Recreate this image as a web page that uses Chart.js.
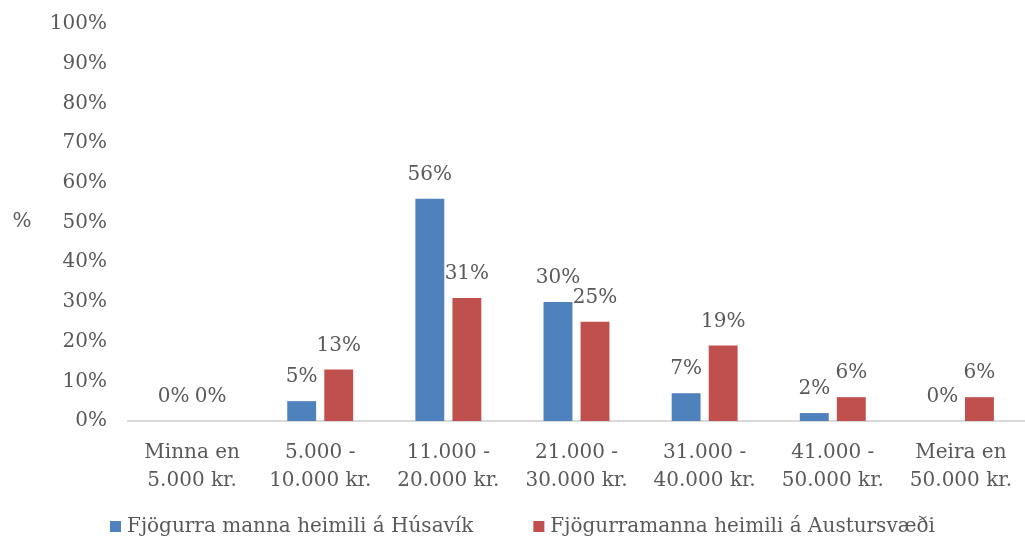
<!DOCTYPE html>
<html>
<head>
<meta charset="utf-8">
<script src="https://cdn.jsdelivr.net/npm/chart.js@4"></script>
<style>
  html, body { margin: 0; padding: 0; background: #fff; }
  #wrap { width: 1025px; height: 542px; }
</style>
</head>
<body>
<div id="wrap"><canvas id="chart"></canvas></div>
<script>
const categories = [
  ["Minna en", "5.000 kr."],
  ["5.000 -", "10.000 kr."],
  ["11.000 -", "20.000 kr."],
  ["21.000 -", "30.000 kr."],
  ["31.000 -", "40.000 kr."],
  ["41.000 -", "50.000 kr."],
  ["Meira en", "50.000 kr."]
];
const husavik = [0, 5, 56, 30, 7, 2, 0];
const austur = [0, 13, 31, 25, 19, 6, 6];
const seriesNames = ["Fjögurra manna heimili á Húsavík", "Fjögurramanna heimili á Austursvæði"];

const FONT = "'DejaVu Serif', serif";
const TXT = "#595959";

// gildi ofan á súlum
const barLabels = {
  id: "barLabels",
  afterDatasetsDraw(chart) {
    const ctx = chart.ctx;
    ctx.save();
    ctx.font = "20px " + FONT;
    ctx.fillStyle = TXT;
    ctx.textAlign = "center";
    ctx.textBaseline = "middle";
    chart.data.datasets.forEach((ds, i) => {
      chart.getDatasetMeta(i).data.forEach((bar, j) => {
        ctx.fillText(ds.data[j] + "%", bar.x, bar.y - 24);
      });
    });
    ctx.restore();
  }
};

// "%" við y-ás (ekki snúið) og skýringar neðst
const extras = {
  id: "extras",
  afterDraw(chart) {
    const ctx = chart.ctx;
    ctx.save();
    ctx.font = "20px " + FONT;
    ctx.fillStyle = TXT;
    ctx.textBaseline = "middle";
    ctx.textAlign = "center";
    ctx.fillText("%", 22, 222);

    ctx.textAlign = "left";
    let x = 110;
    const y = 527;
    chart.data.datasets.forEach(ds => {
      ctx.fillStyle = ds.backgroundColor;
      ctx.fillRect(x, y - 6, 11, 11);
      ctx.fillStyle = TXT;
      ctx.fillText(ds.label, x + 17, y);
      x += 17 + ctx.measureText(ds.label).width + 60;
    });
    ctx.restore();
  }
};

new Chart(document.getElementById("chart"), {
  type: "bar",
  data: {
    labels: categories,
    datasets: [
      { label: seriesNames[0], data: husavik, backgroundColor: "#4F81BD" },
      { label: seriesNames[1], data: austur, backgroundColor: "#C0504D" }
    ]
  },
  options: {
    responsive: true,
    maintainAspectRatio: false,
    animation: false,
    categoryPercentage: 0.578,
    barPercentage: 0.78,
    layout: { padding: { top: 24, left: 0, right: 0, bottom: 29 } },
    scales: {
      x: {
        grid: { display: false, drawTicks: false },
        border: { display: true, color: "#d9d9d9", width: 2 },
        ticks: { color: TXT, font: { family: FONT, size: 20, lineHeight: 1.4 }, padding: 18, maxRotation: 0, autoSkip: false },
        afterFit: s => { s.paddingLeft = 0; s.paddingRight = 0; }
      },
      y: {
        min: 0,
        max: 100,
        grid: { display: false, drawTicks: false },
        border: { display: false },
        ticks: {
          stepSize: 10,
          color: TXT,
          font: { family: FONT, size: 20 },
          padding: 21,
          callback: v => v + "%"
        },
        afterFit: s => { s.width = 128; s.paddingTop = 0; s.paddingBottom = 0; }
      }
    },
    plugins: {
      tooltip: { enabled: false },
      legend: { display: false }
    }
  },
  plugins: [barLabels, extras]
});
</script>
</body>
</html>
